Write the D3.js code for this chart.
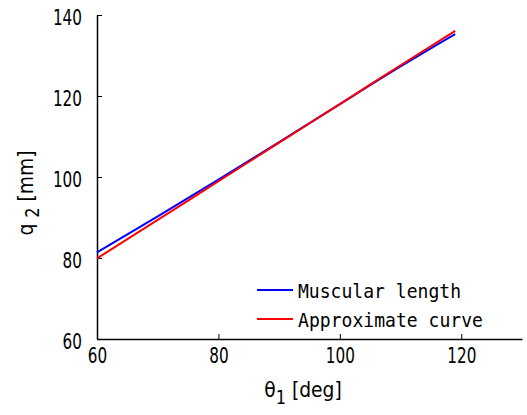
<!DOCTYPE html>
<html>
<head>
<meta charset="utf-8">
<script src="https://cdn.jsdelivr.net/npm/d3@7"></script>
<style>
body { margin: 0; background: #fff; }
svg { display: block; }
</style>
</head>
<body>
<svg id="graph" width="527" height="415"></svg>
<script>
// angle theta1 [deg]
const theta = [60, 70, 80, 90, 100, 110, 119];
// muscular length q2 [mm]
const muscular = [81.4, 90.3, 99.35, 108.6, 118.0, 127.3, 135.3];
// approximate curve
const approx = [79.9, 89.4, 98.95, 108.5, 118.0, 127.6, 136.1];
const xTicks = [60, 80, 100, 120];
const yTicks = [60, 80, 100, 120, 140];

const plotLeft = 97, plotRight = 522, plotTop = 15, plotBottom = 339;
const svg = d3.select('#graph');

const xScale = d3.scaleLinear().domain([60, 130]).range([plotLeft, plotRight]);
const yScale = d3.scaleLinear().domain([60, 140]).range([plotBottom, plotTop]);

const font = '"DejaVu Sans", sans-serif';

// axes (ticks pointing inward)
const xAxis = svg.append('g')
    .attr('transform', `translate(0, ${plotBottom})`)
    .call(d3.axisBottom(xScale).tickValues(xTicks).tickSizeInner(-5).tickSizeOuter(0).tickPadding(9));
const yAxis = svg.append('g')
    .attr('transform', `translate(${plotLeft}, 0)`)
    .call(d3.axisLeft(yScale).tickValues(yTicks).tickSizeInner(-5).tickSizeOuter(0).tickPadding(15));

[xAxis, yAxis].forEach(a => {
  a.select('.domain').attr('stroke', '#000').attr('stroke-width', 1.5);
  a.selectAll('.tick line').attr('stroke', '#000').attr('stroke-width', 1);
  a.selectAll('.tick text')
    .attr('font-family', font).attr('font-size', 20.5).attr('fill', '#000')
    .attr('textLength', d => String(d).length * 9.7)
    .attr('lengthAdjust', 'spacingAndGlyphs');
});
xAxis.selectAll('.tick text').attr('dy', '0.75em');
yAxis.selectAll('.tick text').attr('dy', '0.45em');

// curves
const line = (vals) => d3.line()
    .x((d, i) => xScale(theta[i]))
    .y(d => yScale(d))
    .curve(d3.curveMonotoneX)(vals);

svg.append('path').attr('d', line(muscular))
    .attr('fill', 'none').attr('stroke', '#0000ff').attr('stroke-width', 2);
svg.append('path').attr('d', line(approx))
    .attr('fill', 'none').attr('stroke', '#ff0000').attr('stroke-width', 2);

// axis titles
const yl = svg.append('g').attr('transform', 'translate(33, 193) rotate(-90) scale(0.85, 1)')
  .append('text')
    .attr('text-anchor', 'middle')
    .attr('font-family', font).attr('font-size', 22).attr('fill', '#000');
yl.append('tspan').text('q ');
yl.append('tspan').attr('dy', 6).attr('font-size', 19).text('2');
yl.append('tspan').attr('dy', -6).text(' [mm]');

const xl = svg.append('g').attr('transform', 'translate(303, 397) scale(0.85, 1)')
  .append('text')
    .attr('text-anchor', 'middle')
    .attr('font-family', font).attr('font-size', 22).attr('fill', '#000');
xl.append('tspan').text('θ');
xl.append('tspan').attr('dy', 7).attr('font-size', 19).text('1');
xl.append('tspan').attr('dy', -7).text(' [deg]');

// legend
const legend = [
  { name: 'Muscular length', color: '#0000ff', w: 163 },
  { name: 'Approximate curve', color: '#ff0000', w: 185 }
];
const lg = svg.append('g');
legend.forEach((d, i) => {
  const y = 290 + i * 29;
  lg.append('line').attr('x1', 257).attr('x2', 293).attr('y1', y).attr('y2', y)
    .attr('stroke', d.color).attr('stroke-width', 2);
  lg.append('text').attr('x', 298).attr('y', y + 8)
    .attr('font-family', '"DejaVu Sans Mono", "Liberation Mono", monospace')
    .attr('font-size', 19).attr('fill', '#000')
    .attr('textLength', d.w).attr('lengthAdjust', 'spacingAndGlyphs')
    .text(d.name);
});
</script>
</body>
</html>
